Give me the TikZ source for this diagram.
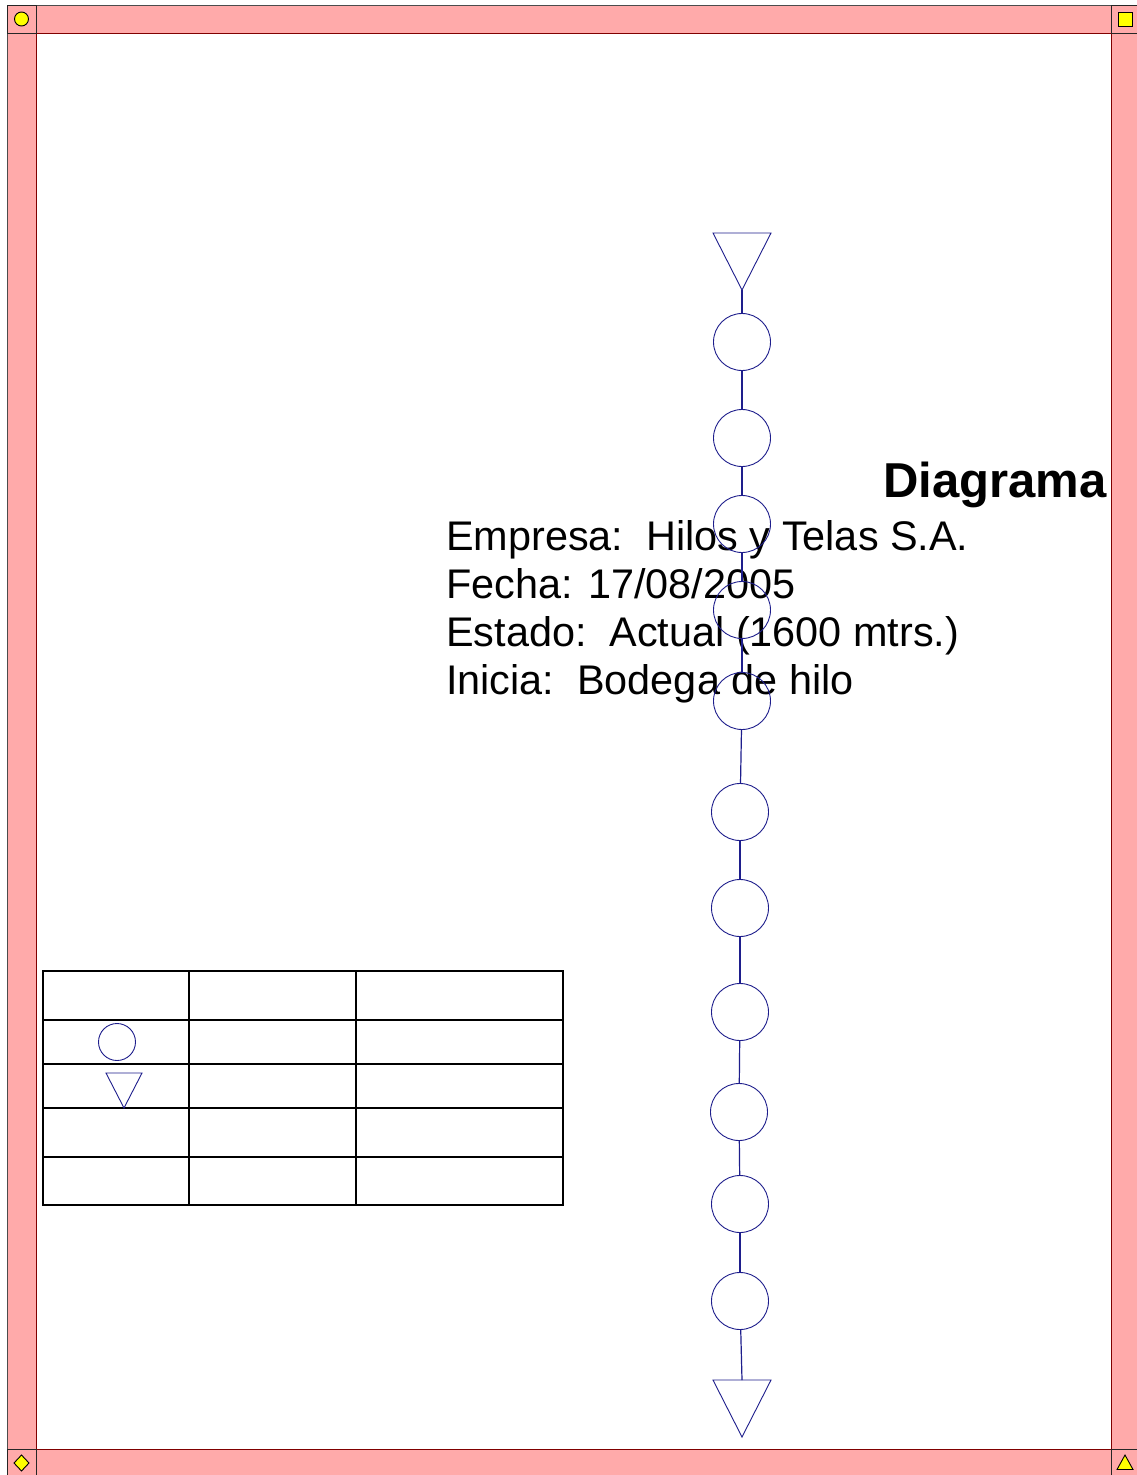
\documentclass[tikz,border=0pt]{standalone}
\usepackage{fontspec}
\setmainfont{Liberation Sans}
\usetikzlibrary{shapes.geometric}
\definecolor{bandpink}{RGB}{255,170,170}
\definecolor{banddark}{RGB}{128,0,0}
\definecolor{flowblue}{RGB}{30,30,140}
\definecolor{symyellow}{RGB}{255,255,0}
\begin{document}
\begin{tikzpicture}[x=1pt,y=-1pt,
  band/.style={fill=bandpink,draw=banddark,line width=1pt},
  cornerbox/.style={fill=bandpink,draw=black!85,line width=1pt},
  cornersym/.style={fill=symyellow,draw=black,line width=0.9pt},
  opcircle/.style={circle,draw=flowblue,line width=0.9pt,minimum size=57pt,inner sep=0pt},
  flowtri/.style={draw=flowblue,line width=0.9pt,line join=miter},
  flowline/.style={draw=flowblue,line width=1.2pt},
  tableline/.style={draw=black,line width=1.2pt},
  infotext/.style={anchor=base west,inner sep=0pt,font=\fontsize{41.4}{49}\selectfont}
]
\useasboundingbox (0,0) rectangle (1136,1475);
\fill[white] (0,0) rectangle (1136,1475);

% page frame: bands along the four sides
\draw[band] (36,5) rectangle (1111,33);
\draw[band] (36,1449) rectangle (1111,1480);
\draw[band] (7,33) rectangle (36,1449);
\draw[band] (1111,33) rectangle (1142,1449);
\draw[black!70,line width=1pt] (7,5) -- (1142,5);
\draw[black!70,line width=1pt] (7,5) -- (7,1480);
% corner boxes with their marks
\draw[cornerbox] (7,5) rectangle (36,33);
\draw[cornerbox] (1111,5) rectangle (1142,33);
\draw[cornerbox] (7,1449) rectangle (36,1480);
\draw[cornerbox] (1111,1449) rectangle (1142,1480);
\node[cornersym,circle,minimum size=14pt,inner sep=0pt] (mk1) at (21.5,19) {};
\node[cornersym,rectangle,minimum size=14pt,inner sep=0pt] (mk2) at (1125,19.5) {};
\draw[cornersym] (21.5,1455) -- (29,1463) -- (21.5,1471) -- (14,1463) -- cycle;
\coordinate (mk3) at (21.5,1463);
\draw[cornersym] (1125,1455) -- (1133,1469.5) -- (1117,1469.5) -- cycle;
\coordinate (mk4) at (1125,1463);

% title and header data
\node[anchor=base west,inner sep=0pt,font=\fontsize{49}{56}\selectfont\bfseries] (title) at (883,497) {Diagrama};
\node[infotext] (empresa) at (446,550) {Empresa:\ \ Hilos y Telas S.A.};
\node[infotext] (fecha) at (446,598) {Fecha: 17/08/2005};
\node[infotext] (estado) at (446,646) {Estado:\ \ Actual (1600 mtrs.)};
\node[infotext] (inicia) at (446,694) {Inicia:\ \ Bodega de hilo};

% process chain
\draw[flowtri] (713,233) -- (771,233) -- (742,290) -- cycle;
\coordinate (t1) at (742,290);
\node[opcircle] (c1) at (742,342) {};
\node[opcircle] (c2) at (742,438) {};
\node[opcircle] (c3) at (742,524) {};
\node[opcircle] (c4) at (742,610) {};
\node[opcircle] (c5) at (742,701) {};
\node[opcircle] (c6) at (740,812) {};
\node[opcircle] (c7) at (740,908) {};
\node[opcircle] (c8) at (740,1012) {};
\node[opcircle] (c9) at (739,1112) {};
\node[opcircle] (c10) at (740,1204) {};
\node[opcircle] (c11) at (740,1301) {};
\draw[flowtri] (713,1380) -- (771,1380) -- (742,1437) -- cycle;
\coordinate (t2) at (742,1380);

\draw[flowline] (t1) -- (c1);
\foreach \a/\b in {c1/c2,c2/c3,c3/c4,c4/c5,c5/c6,c6/c7,c7/c8,c8/c9,c9/c10,c10/c11}
  \draw[flowline] (\a) -- (\b);
\draw[flowline] (c11) -- (t2);

% summary table
\draw[tableline] (43,971) rectangle (563,1205);
\foreach \yy in {1020,1064,1108,1157}
  \draw[tableline] (43,\yy) -- (563,\yy);
\foreach \xx in {189,356}
  \draw[tableline] (\xx,971) -- (\xx,1205);
\node[circle,draw=flowblue,line width=0.9pt,minimum size=37pt,inner sep=0pt] (keyop) at (117,1042) {};
\draw[flowtri] (106,1073) -- (142,1073) -- (124,1108) -- cycle;
\coordinate (keystore) at (124,1085);
\end{tikzpicture}
\end{document}
